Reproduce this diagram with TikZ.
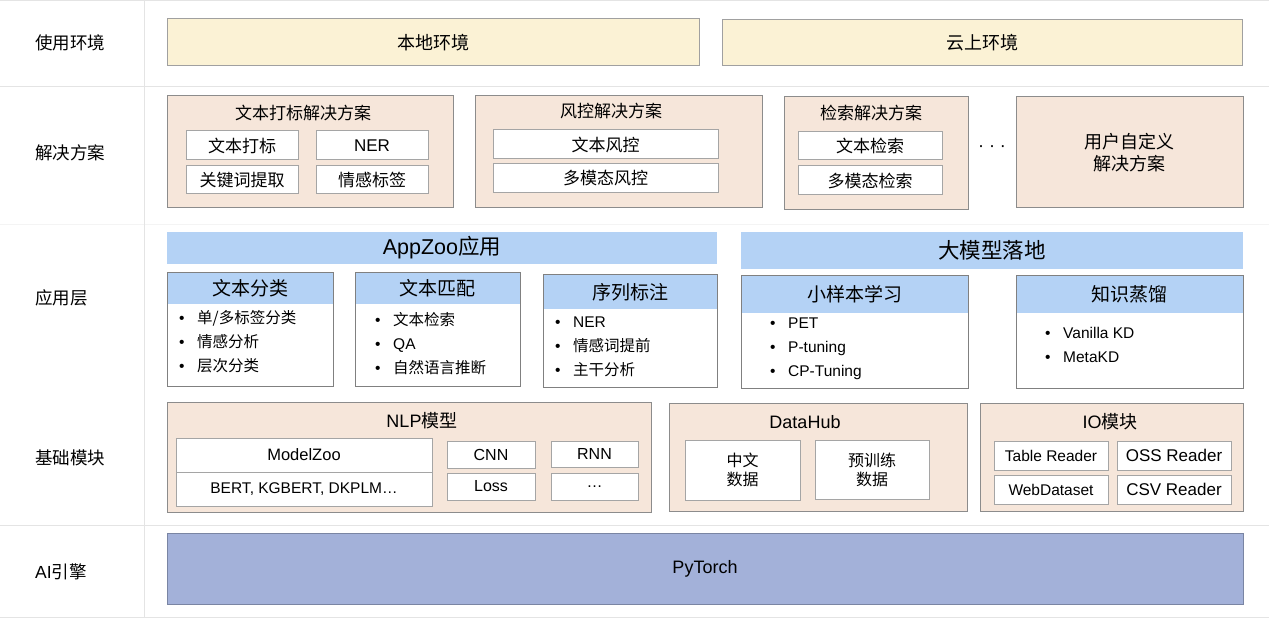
\documentclass[tikz,border=0pt]{standalone}
\usepackage{fontspec}
\setmainfont{Liberation Sans}
\newfontfamily\cjk{Noto Sans CJK SC}
\usepackage{xcolor}
\usetikzlibrary{positioning}
\definecolor{envyellow}{RGB}{251,242,213}
\definecolor{envedge}{RGB}{160,160,160}
\definecolor{solpeach}{RGB}{246,230,218}
\definecolor{soledge}{RGB}{140,140,140}
\definecolor{celledge}{RGB}{165,165,165}
\definecolor{cardedge}{RGB}{128,128,128}
\definecolor{appblue}{RGB}{180,210,245}
\definecolor{engineblue}{RGB}{163,177,217}
\definecolor{gridgrey}{RGB}{228,228,228}
\newcommand{\fsz}[1]{\fontsize{#1}{#1}\selectfont}
\newcommand{\zh}[1]{{\cjk #1}}
\newcommand{\itm}{\makebox[18pt][l]{•}}

\begin{document}
\begin{tikzpicture}[x=1pt,y=-1pt,
  gridline/.style={draw=gridgrey,line width=1pt},
  rowlabel/.style={anchor=west,inner sep=0pt,font=\cjk\fsz{17.5}},
  block/.style={anchor=north west,inner sep=0pt,outer sep=0pt,line width=1pt},
  wh/.style 2 args={minimum width=#1pt,minimum height=#2pt},
  envbox/.style={block,draw=envedge,fill=envyellow,font=\cjk\fsz{18}},
  solbox/.style={block,draw=soledge,fill=solpeach},
  soltitle/.style={font=\cjk\fsz{17}},
  blocktitle/.style={font=\fsz{18}},
  cell/.style={block,draw=celledge,fill=white,font=\cjk\fsz{17}},
  latcell/.style={block,draw=celledge,fill=white,font=\fsz{16}},
  twoline/.style={block,draw=celledge,fill=white,align=center,font=\cjk\fontsize{16}{19}\selectfont},
  appbar/.style={block,fill=appblue,font=\cjk\fsz{21.5}},
  cardhead/.style={block,fill=appblue,font=\cjk\fsz{19}},
  card/.style={block,draw=cardedge},
  bullets/.style={anchor=west,align=left,inner sep=0pt,font=\fontsize{15.5}{24}\selectfont}
]
  \fill[white] (0,0) rectangle (1269,620);
  \useasboundingbox (0,0) rectangle (1269,620);

  \draw[gridline] (0,1) -- (1269,1);
  \draw[gridline] (0,87) -- (1269,87);
  \draw[gridline,draw=gridgrey!40] (0,225) -- (1269,225);
  \draw[gridline] (0,525) -- (1269,525);
  \draw[gridline] (0,617) -- (1269,617);
  \draw[gridline] (144,0) -- (144,617);

  \node[rowlabel] (lenv) at (35,43) {使用环境};
  \node[rowlabel] (lsol) at (35,153) {解决方案};
  \node[rowlabel] (lapp) at (35,298) {应用层};
  \node[rowlabel] (lbase) at (35,458) {基础模块};
  \node[rowlabel] (lengine) at (35,572) {{\rmfamily AI}引擎};

  \node[envbox,wh={532}{47}] (local) at (167,19) {本地环境};
  \node[envbox,wh={520}{46}] (cloud) at (722,20) {云上环境};

  \node[solbox,wh={286}{112}] (tagsol) at (167,96) {};
  \node[soltitle] (tagtitle) at (303,113) {文本打标解决方案};
  \node[cell,wh={112}{29}] (tagtext) at (186,131) {文本打标};
  \node[cell,wh={112}{29},font=\fsz{17}] (tagner) at (316,131) {NER};
  \node[cell,wh={112}{28}] (tagkw) at (186,166) {关键词提取};
  \node[cell,wh={112}{28}] (tagsent) at (316,166) {情感标签};

  \node[solbox,wh={287}{112}] (risksol) at (475,96) {};
  \node[soltitle] (risktitle) at (611,111) {风控解决方案};
  \node[cell,wh={225}{29}] (risktext) at (493,130) {文本风控};
  \node[cell,wh={225}{29}] (riskmm) at (493,164) {多模态风控};

  \node[solbox,wh={184}{113}] (searchsol) at (784,97) {};
  \node[soltitle] (searchtitle) at (871,113) {检索解决方案};
  \node[cell,wh={144}{28}] (searchtext) at (798,132) {文本检索};
  \node[cell,wh={144}{29}] (searchmm) at (798,166) {多模态检索};

  \node[font=\fsz{18}] (soldots) at (992,149) {· · ·};
  \node[solbox,wh={227}{111},align=center,font=\cjk\fontsize{18}{22}\selectfont] (usersol) at (1016,97) {用户自定义\\解决方案};

  \node[appbar,wh={550}{32}] (appzoo) at (167,232) {{\rmfamily AppZoo}应用};
  \node[appbar,wh={502}{37}] (bigmodel) at (741,232) {大模型落地};

  \node[cardhead,wh={166}{31}] (clshead) at (167,273) {文本分类};
  \node[card,wh={166}{113}] (cls) at (167,273) {};
  \node[bullets] (clsitems) at (179,342) {\itm\zh{单/多标签分类}\\ \itm\zh{情感分析}\\ \itm\zh{层次分类}};

  \node[cardhead,wh={165}{31}] (matchhead) at (355,273) {文本匹配};
  \node[card,wh={165}{113}] (match) at (355,273) {};
  \node[bullets] (matchitems) at (375,344) {\itm\zh{文本检索}\\ \itm QA\\ \itm\zh{自然语言推断}};

  \node[cardhead,wh={174}{34}] (seqhead) at (543,275) {序列标注};
  \node[card,wh={174}{112}] (seq) at (543,275) {};
  \node[bullets] (seqitems) at (555,347) {\itm NER\\ \itm\zh{情感词提前}\\ \itm\zh{主干分析}};

  \node[cardhead,wh={227}{37}] (fewhead) at (741,276) {小样本学习};
  \node[card,wh={227}{112}] (few) at (741,276) {};
  \node[bullets] (fewitems) at (770,349) {\itm PET\\ \itm P-tuning\\ \itm CP-Tuning};

  \node[cardhead,wh={227}{37}] (kdhead) at (1016,276) {知识蒸馏};
  \node[card,wh={227}{112}] (kd) at (1016,276) {};
  \node[bullets] (kditems) at (1045,345) {\itm Vanilla KD\\ \itm MetaKD};

  \node[solbox,wh={484}{110}] (nlp) at (167,402) {};
  \node[blocktitle] (nlptitle) at (422,421) {NLP\zh{模型}};
  \node[latcell,wh={256}{34},font=\fsz{16.5}] (modelzoo) at (176,438) {ModelZoo};
  \node[latcell,wh={256}{34},font=\fsz{15.5}] (bert) at (176,472) {BERT, KGBERT, DKPLM\dots};
  \node[latcell,wh={88}{27}] (cnn) at (447,441) {CNN};
  \node[latcell,wh={87}{26}] (rnn) at (551,441) {RNN};
  \node[latcell,wh={88}{27}] (loss) at (447,473) {Loss};
  \node[latcell,wh={87}{27}] (more) at (551,473) {\dots};

  \node[solbox,wh={298}{108}] (datahub) at (669,403) {};
  \node[blocktitle] (hubtitle) at (805,422) {DataHub};
  \node[twoline,wh={115}{60}] (zhdata) at (685,440) {中文\\数据};
  \node[twoline,wh={114}{59}] (ptdata) at (815,440) {预训练\\数据};

  \node[solbox,wh={263}{108}] (io) at (980,403) {};
  \node[blocktitle] (iotitle) at (1110,422) {IO\zh{模块}};
  \node[latcell,wh={114}{29},font=\fsz{15.5}] (tablerd) at (994,441) {Table Reader};
  \node[latcell,wh={114}{29},font=\fsz{17}] (ossrd) at (1117,441) {OSS Reader};
  \node[latcell,wh={114}{29},font=\fsz{15.5}] (webds) at (994,475) {WebDataset};
  \node[latcell,wh={114}{29},font=\fsz{17}] (csvrd) at (1117,475) {CSV Reader};

  \node[block,wh={1076}{71},fill=engineblue,draw=engineblue!75!black,line width=0.8pt,font=\fsz{18}] (pytorch) at (167,533) {PyTorch};
\end{tikzpicture}
\end{document}
